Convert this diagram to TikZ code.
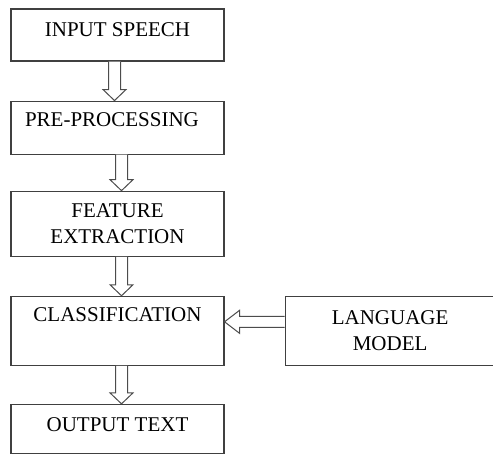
\documentclass[tikz,border=0pt]{standalone}
\usepackage{fontspec}
\setmainfont{Liberation Serif}
\usetikzlibrary{positioning,calc}

\begin{document}
\begin{tikzpicture}[stage/.style = {draw=black!75, line width=1.1pt, minimum width=213pt, inner ysep=0pt, font=\fontsize{21}{26}\selectfont}, hollow/.style = {draw=black!70, line width=1pt, fill=white}, node distance=39pt]
\useasboundingbox (0,0) rectangle (493pt,-456pt);
\node[stage, text height=27pt, text depth=25pt] (in) at (117.5pt,-35pt) {INPUT SPEECH};
\node[stage, text height=25pt, text depth=28pt, text width=185pt, inner xsep=14pt, align=left] (pre) [below=of in] {PRE-PROCESSING};
\node[stage, minimum height=65pt, align=center] (feat) [below=36pt of pre] {FEATURE\\EXTRACTION};
\node[stage, text height=25pt, text depth=44pt] (cls) [below=of feat] {CLASSIFICATION};
\node[stage, text height=27pt, text depth=22.5pt] (out) [below=38pt of cls] {OUTPUT TEXT};
\node[stage, minimum width=210pt, minimum height=69pt, align=center] (lm) [right=60pt of cls] {LANGUAGE\\MODEL};
\foreach \a/\b/\o in {in/pre/-3pt, pre/feat/4pt, feat/cls/4pt, cls/out/4pt}
  \draw[hollow] ($(\a.south)+(\o-6pt,0)$) -- ($(\b.north)+(\o-6pt,11pt)$) -- ($(\b.north)+(\o-11.5pt,11pt)$) -- ($(\b.north)+(\o,0)$) -- ($(\b.north)+(\o+11.5pt,11pt)$) -- ($(\b.north)+(\o+6pt,11pt)$) -- ($(\a.south)+(\o+6pt,0)$);
\draw[hollow] ($(lm.west)+(0,14.5pt)$) -- ($(cls.east)+(15pt,14.5pt)$) -- ($(cls.east)+(15pt,20.5pt)$) -- ($(cls.east)+(0,9pt)$) -- ($(cls.east)+(15pt,-2.5pt)$) -- ($(cls.east)+(15pt,3.5pt)$) -- ($(lm.west)+(0,3.5pt)$);
\end{tikzpicture}
\end{document}
